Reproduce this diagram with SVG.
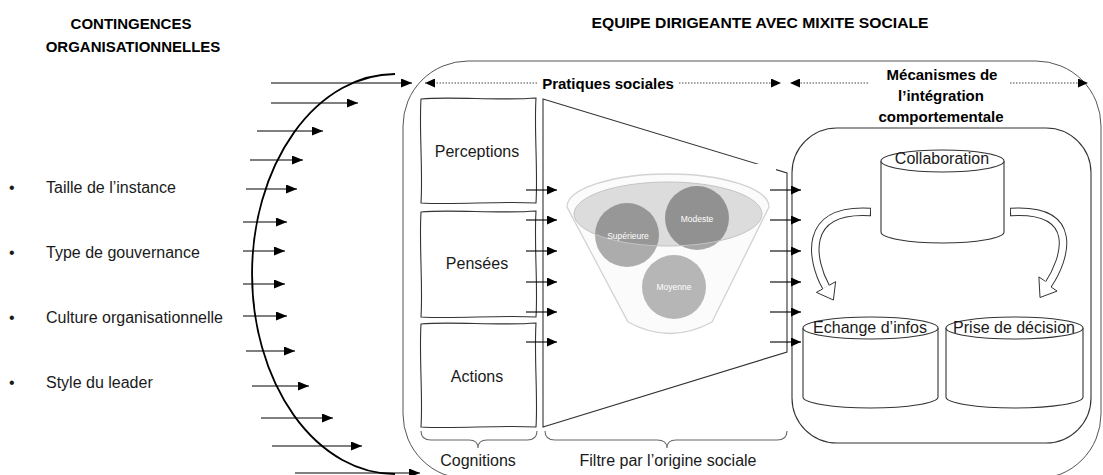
<svg xmlns="http://www.w3.org/2000/svg" width="1103" height="475" viewBox="0 0 1103 475">
<defs>
<marker id="ah" markerUnits="userSpaceOnUse" markerWidth="11" markerHeight="9" refX="11" refY="4.5" orient="auto"><path d="M0,0 L11,4.5 L0,9 Z" fill="#000"/></marker>
<marker id="ahs" markerUnits="userSpaceOnUse" markerWidth="10" markerHeight="9" refX="10" refY="4.5" orient="auto"><path d="M0,0 L10,4.5 L0,9 Z" fill="#000"/></marker>
</defs>
<style>
text{font-family:"Liberation Sans",Arial,sans-serif;fill:#1a1a1a}
.h{font-weight:bold;font-size:15px;fill:#000}
.t{font-size:16px}
.c{text-anchor:middle}
.lbl{font-size:8.5px;fill:#fff;text-anchor:middle}
.ar{stroke:#000;stroke-width:1.2;fill:none;marker-end:url(#ah)}
.as{stroke:#000;stroke-width:1.1;fill:none;marker-end:url(#ahs)}
.dt{stroke:#444;stroke-width:1;stroke-dasharray:1.5 1.5;fill:none;marker-end:url(#ahs)}
.box{fill:#fff;stroke:#333;stroke-width:1.1}
.cyl{fill:#fff;stroke:#333;stroke-width:1.1}
.br{fill:none;stroke:#666;stroke-width:1.1}
</style>

<g id="titles">
<text class="h c" x="131" y="29">CONTINGENCES</text>
<text class="h c" x="133" y="52">ORGANISATIONNELLES</text>
<text class="h c" x="760" y="28" textLength="337" lengthAdjust="spacingAndGlyphs">EQUIPE DIRIGEANTE AVEC MIXITE SOCIALE</text>
</g>

<g id="contingences-list">
<text class="t" x="9" y="193">•</text><text class="t" x="46" y="193">Taille de l’instance</text>
<text class="t" x="9" y="258">•</text><text class="t" x="46" y="258">Type de gouvernance</text>
<text class="t" x="9" y="323">•</text><text class="t" x="46" y="323">Culture organisationnelle</text>
<text class="t" x="9" y="388">•</text><text class="t" x="46" y="388">Style du leader</text>
</g>

<g id="equipe-frame">
<rect x="403" y="61" width="698" height="418" rx="65" fill="none" stroke="#555" stroke-width="1"/>
</g>

<g id="section-labels">
<text class="h c" x="608" y="89">Pratiques sociales</text>
<text class="h c" x="942" y="80">Mécanismes de</text>
<text class="h c" x="941" y="101">l’intégration</text>
<text class="h c" x="941" y="122">comportementale</text>
</g>

<g id="perceptions">
<path class="box" d="M421,99 C450,96 500,101 536,98 C534,130 538,170 536,203 C500,201 455,205 421,203 C423,170 419,130 421,99 Z"/>
<text class="t c" x="477" y="157">Perceptions</text>
</g>
<g id="pensees">
<path class="box" d="M421,212 C450,209 500,214 536,211 C534,245 538,285 536,317 C500,315 455,319 421,317 C423,285 419,245 421,212 Z"/>
<text class="t c" x="477" y="269">Pensées</text>
</g>
<g id="actions">
<path class="box" d="M421,324 C450,321 500,326 536,323 C534,357 538,397 536,427 C500,425 455,429 421,427 C423,397 419,357 421,324 Z"/>
<text class="t c" x="477" y="382">Actions</text>
</g>

<g id="filtre">
<path d="M543,99 L787,173 L787,352 L543,427 Z" fill="#fff" stroke="#333" stroke-width="1.1"/>
<rect x="562" y="164" width="214" height="179" fill="#fff"/>
<path d="M567,207 A101,33 0 0 1 769,207 L712,322 Q670,345 628,322 Z" fill="#fbfbfb" stroke="#d2d2d2" stroke-width="1.3"/>
<circle cx="627" cy="235" r="32" fill="#8a8a8a" fill-opacity="0.7"/>
<circle cx="697" cy="218" r="32" fill="#8a8a8a" fill-opacity="0.75"/>
<circle cx="674" cy="287" r="32" fill="#8a8a8a" fill-opacity="0.62"/>
<ellipse cx="668" cy="214" rx="94" ry="32" fill="#000" fill-opacity="0.12" stroke="#c4c4c4" stroke-width="1"/>
<text class="lbl" x="628" y="239">Supérieure</text>
<text class="lbl" x="697" y="222">Modeste</text>
<text class="lbl" x="674" y="290">Moyenne</text>
</g>

<g id="cognitions-label">
<path class="br" d="M421,431 Q421,440 431,440 L469,440 Q478,440 478,448 Q478,440 487,440 L527,440 Q537,440 537,431"/>
<text class="t c" x="478" y="466">Cognitions</text>
</g>
<g id="filtre-label">
<path class="br" d="M545,431 Q545,440 555,440 L657,440 Q667,440 667,448 Q667,440 676,440 L777,440 Q787,440 787,431"/>
<text class="t c" x="668" y="466">Filtre par l’origine sociale</text>
</g>

<g id="integration-frame">
<rect x="792" y="128" width="299" height="315" rx="45" fill="none" stroke="#333" stroke-width="1.1"/>
</g>

<g id="collaboration">
<path class="cyl" d="M881,161 L881,232 A61.5,11 0 0 0 1004,232 L1004,161"/>
<ellipse class="cyl" cx="942.5" cy="161" rx="61.5" ry="11"/>
<text class="t c" x="942" y="164">Collaboration</text>
</g>
<g id="echange">
<path class="cyl" d="M803,328 L803,397 A67.5,11 0 0 0 938,397 L938,328"/>
<ellipse class="cyl" cx="870.5" cy="328" rx="67.5" ry="11"/>
<text class="t c" x="870" y="333">Echange d’infos</text>
</g>
<g id="prise">
<path class="cyl" d="M946,328 L946,397 A68.5,11 0 0 0 1083,397 L1083,328"/>
<ellipse class="cyl" cx="1014.5" cy="328" rx="68.5" ry="11"/>
<text class="t c" x="1014" y="333">Prise de décision</text>
</g>

<g id="connectors">
<path d="M395,74 A143,200 0 0 0 395,474" fill="none" stroke="#000" stroke-width="1.8"/>
<line class="ar" x1="271" y1="83" x2="412" y2="83"/>
<line class="ar" x1="271" y1="103" x2="358" y2="103"/>
<line class="ar" x1="257" y1="131" x2="323" y2="131"/>
<line class="ar" x1="250" y1="160" x2="303" y2="160"/>
<line class="ar" x1="246" y1="189" x2="297" y2="189"/>
<line class="ar" x1="243" y1="222" x2="287" y2="222"/>
<line class="ar" x1="243" y1="251" x2="285" y2="251"/>
<line class="ar" x1="243" y1="284" x2="285" y2="284"/>
<line class="ar" x1="243" y1="316" x2="287" y2="316"/>
<line class="ar" x1="246" y1="351" x2="295" y2="351"/>
<line class="ar" x1="252" y1="386" x2="309" y2="386"/>
<line class="ar" x1="261" y1="418" x2="333" y2="418"/>
<line class="ar" x1="272" y1="446" x2="362" y2="446"/>
<line class="ar" x1="295" y1="473" x2="420" y2="473"/>

<line class="dt" x1="537" y1="83" x2="425" y2="83"/>
<line class="dt" x1="679" y1="83" x2="781" y2="83"/>
<line class="dt" x1="868" y1="83" x2="790" y2="83"/>
<line class="dt" x1="1010" y1="83" x2="1088" y2="83"/>

<line class="as" x1="526" y1="190" x2="557" y2="190"/>
<line class="as" x1="526" y1="220" x2="557" y2="220"/>
<line class="as" x1="526" y1="251" x2="557" y2="251"/>
<line class="as" x1="526" y1="282" x2="557" y2="282"/>
<line class="as" x1="526" y1="312" x2="557" y2="312"/>
<line class="as" x1="526" y1="342" x2="557" y2="342"/>

<line class="as" x1="770" y1="190" x2="801" y2="190"/>
<line class="as" x1="770" y1="220" x2="801" y2="220"/>
<line class="as" x1="770" y1="251" x2="801" y2="251"/>
<line class="as" x1="770" y1="282" x2="801" y2="282"/>
<line class="as" x1="770" y1="312" x2="801" y2="312"/>
<line class="as" x1="770" y1="342" x2="801" y2="342"/>

<path d="M871,212 L870,212 C800,208 812,262 826,287" fill="none" stroke="#333" stroke-width="8.5"/>
<path d="M870,212 C800,208 812,262 826,287" fill="none" stroke="#fff" stroke-width="6.5"/>
<path d="M829.3,285.3 L835.6,281.6 L833.4,300 L816.4,292.4 L822.7,288.9" fill="#fff" stroke="#333" stroke-width="1"/>

<path d="M1010,212 L1011,212 C1081,208 1066,258 1048,285" fill="none" stroke="#333" stroke-width="8.5"/>
<path d="M1011,212 C1081,208 1066,258 1048,285" fill="none" stroke="#fff" stroke-width="6.5"/>
<path d="M1051.1,287 L1057.1,291.1 L1040,297.5 L1038.9,276.9 L1044.9,281" fill="#fff" stroke="#333" stroke-width="1"/>
</g>
</svg>
